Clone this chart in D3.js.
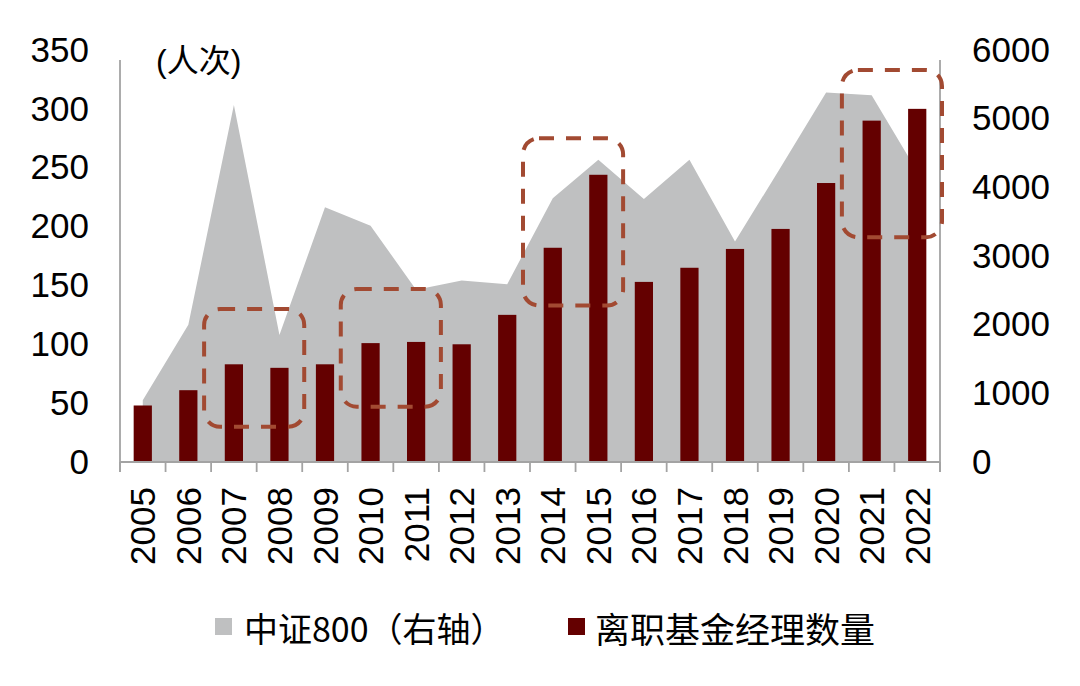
<!DOCTYPE html>
<html><head><meta charset="utf-8">
<script src="https://cdn.jsdelivr.net/npm/d3@7"></script>
<style>
html,body{margin:0;padding:0;background:#fff;}
svg{display:block;}
</style></head>
<body>
<svg id="chart" width="1080" height="686"></svg>
<script>
// ---- data ----
const years = ["2005","2006","2007","2008","2009","2010","2011","2012","2013","2014","2015","2016","2017","2018","2019","2020","2021","2022"];
const departures = [48,61,83,80,83,101,102,100,125,182,244,153,165,181,198,237,290,300];
const csi800 = [900,2000,5200,1850,3710,3440,2510,2645,2590,3840,4400,3830,4400,3210,4290,5380,5340,4230];
const leftTicks = [0,50,100,150,200,250,300,350];
const rightTicks = [0,1000,2000,3000,4000,5000,6000];
const unitLabel = "(人次)";
const legendLabels = ["中证800（右轴）","离职基金经理数量"];
// highlighted groups (dashed rounded boxes)
const boxFrom = ["2007","2010","2014","2021"];
const boxTo   = ["2008","2011","2015","2022"];
const boxLow  = [30,47,133,191];
const boxHigh = [130,147,275,333];

// ---- layout ----
const L = 120, R = 940, T = 50, B = 462;
const svg = d3.select("#chart");
const x = d3.scaleBand().domain(years).range([L, R]).paddingInner(0).paddingOuter(0);
const yL = d3.scaleLinear().domain([0,350]).range([B, T]);
const yR = d3.scaleLinear().domain([0,6000]).range([B, T]);
const bw = x.bandwidth();
const barW = bw * 0.4;

const numFont = "'Liberation Sans', Arial, sans-serif";
const cjkFont = "'Liberation Sans', 'Noto Sans CJK SC', sans-serif";

// area (right axis)
const area = d3.area()
  .x((d,i) => x(years[i]) + bw/2)
  .y0(yR(0))
  .y1(d => yR(d));
svg.append("path").datum(csi800).attr("d", area).attr("fill", "#bfc0c1");

// bars (left axis)
svg.append("g").selectAll("rect").data(departures).join("rect")
  .attr("x", (d,i) => x(years[i]) + (bw - barW)/2)
  .attr("width", barW)
  .attr("y", d => yL(d))
  .attr("height", d => yL(0) - yL(d))
  .attr("fill", "#640000");

// axes lines
const axisColor = "#a3a3a3";
svg.append("line").attr("x1", L).attr("x2", L).attr("y1", T + 10).attr("y2", B + 10)
  .attr("stroke", axisColor).attr("stroke-width", 1.8);
svg.append("line").attr("x1", R).attr("x2", R).attr("y1", T + 10).attr("y2", B + 10)
  .attr("stroke", axisColor).attr("stroke-width", 1.8);
svg.append("line").attr("x1", L).attr("x2", R).attr("y1", B).attr("y2", B)
  .attr("stroke", axisColor).attr("stroke-width", 2);
// category boundary ticks
const bounds = years.map(y => x(y)).concat([x.range()[1]]);
svg.append("g").selectAll("line").data(bounds).join("line")
  .attr("x1", d => d).attr("x2", d => d).attr("y1", B).attr("y2", B + 10)
  .attr("stroke", axisColor).attr("stroke-width", 1.8);

// left axis labels
const gl = svg.append("g").attr("transform", `translate(${L},0)`)
  .call(d3.axisLeft(yL).tickValues(leftTicks).tickSize(0).tickPadding(31));
gl.select(".domain").remove();
gl.selectAll("text").attr("font-family", numFont).attr("font-size", 35).attr("fill", "#000");

// right axis labels
const gr = svg.append("g").attr("transform", `translate(${R},0)`)
  .call(d3.axisRight(yR).tickValues(rightTicks).tickFormat(d3.format("d")).tickSize(0).tickPadding(32));
gr.select(".domain").remove();
gr.selectAll("text").attr("font-family", numFont).attr("font-size", 35).attr("fill", "#000");

// x labels rotated
svg.append("g").selectAll("text").data(years).join("text")
  .attr("transform", d => `translate(${x(d) + bw/2},${B + 25}) rotate(-90)`)
  .attr("text-anchor", "end")
  .attr("dominant-baseline", "central")
  .attr("font-family", numFont).attr("font-size", 35).attr("fill", "#000")
  .text(d => d);

// unit label
svg.append("text").attr("x", 156).attr("y", 61)
  .attr("dominant-baseline", "central")
  .attr("font-family", cjkFont).attr("font-size", 32).attr("fill", "#000")
  .text(unitLabel);

// dashed highlight boxes
svg.append("g").selectAll("rect").data(boxFrom).join("rect")
  .attr("x", (d,i) => x(d) - 7)
  .attr("y", (d,i) => yL(boxHigh[i]))
  .attr("width", (d,i) => x(boxTo[i]) + bw + 2 - (x(d) - 7))
  .attr("height", (d,i) => yL(boxLow[i]) - yL(boxHigh[i]))
  .attr("rx", 16).attr("ry", 16)
  .attr("fill", "none")
  .attr("stroke", "#a24a32")
  .attr("stroke-width", 4)
  .attr("stroke-dasharray", "15,12");

// legend
const legendColors = ["#bfc0c1", "#640000"];
const legendX = [215, 568];
const lg = svg.append("g").selectAll("g").data(legendLabels).join("g")
  .attr("transform", (d,i) => `translate(${legendX[i]},627)`);
lg.append("rect").attr("x", 0).attr("y", -9).attr("width", 17).attr("height", 17)
  .attr("fill", (d,i) => legendColors[i]);
lg.append("text").attr("x", (d,i) => i === 0 ? 29 : 27).attr("y", 0)
  .attr("dominant-baseline", "central")
  .attr("font-family", "'Noto Sans CJK SC', sans-serif").attr("font-size", (d,i) => i === 0 ? 34 : 35).attr("fill", "#000")
  .text(d => d);
</script>
</body></html>
